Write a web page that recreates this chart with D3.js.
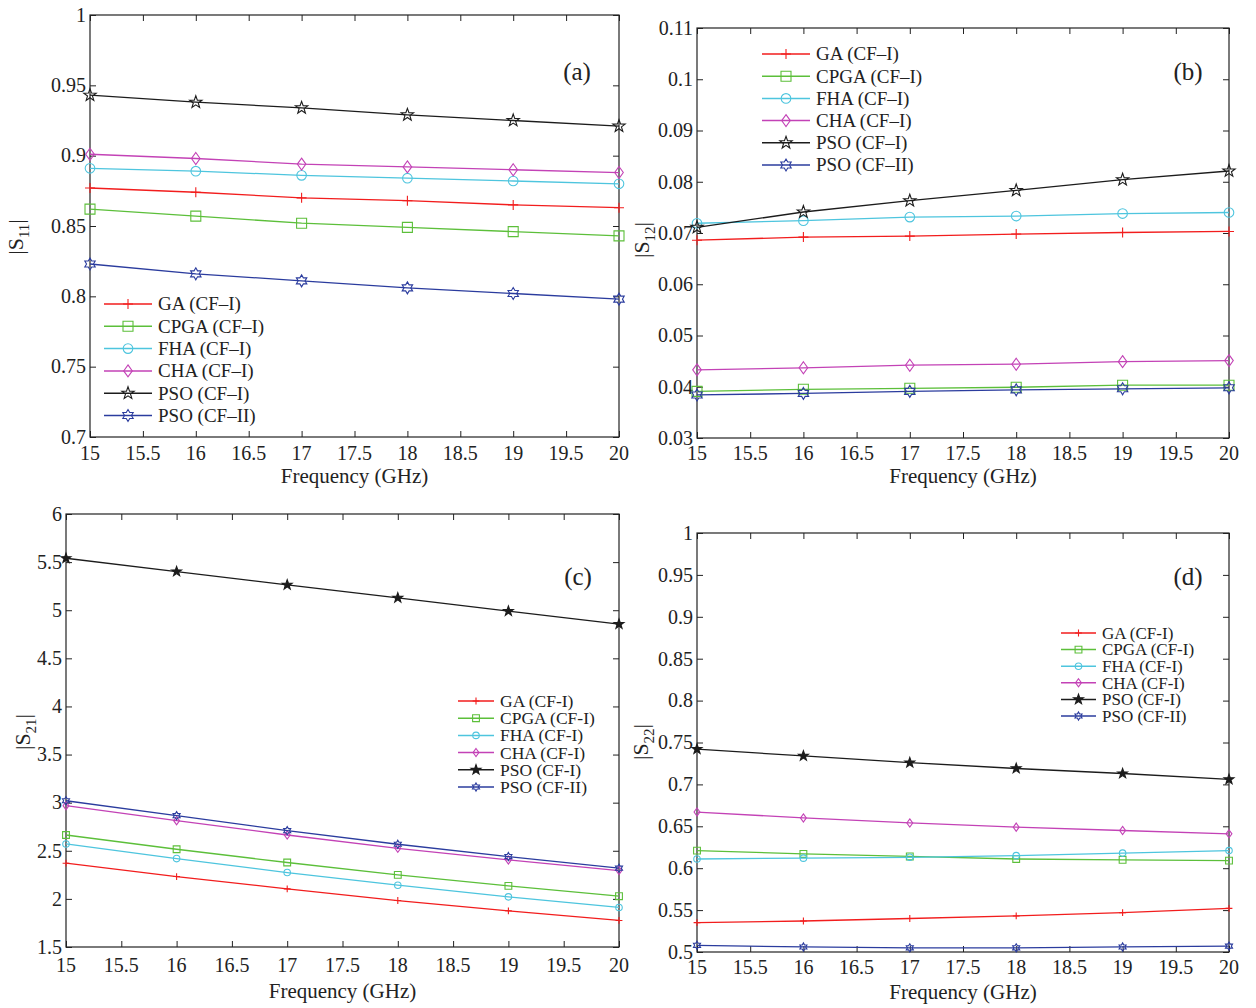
<!DOCTYPE html>
<html>
<head>
<meta charset="utf-8">
<script src="https://cdn.jsdelivr.net/npm/d3@7"></script>
<style>
  body { margin: 0; background: #fff; }
  svg { display: block; }
  text { font-family: "Liberation Serif", "Times New Roman", serif; fill: #222; }
</style>
</head>
<body>
<div id="chart"></div>
<script>
// frequency points and x ticks (shared by all four panels)
const freq = [15, 16, 17, 18, 19, 20];
const xTicks = [15, 15.5, 16, 16.5, 17, 17.5, 18, 18.5, 19, 19.5, 20];

const namesDash = ['GA (CF–I)', 'CPGA (CF–I)', 'FHA (CF–I)', 'CHA (CF–I)', 'PSO (CF–I)', 'PSO (CF–II)'];
const namesHyphen = ['GA (CF-I)', 'CPGA (CF-I)', 'FHA (CF-I)', 'CHA (CF-I)', 'PSO (CF-I)', 'PSO (CF-II)'];
const colors = ['#f21d1d', '#5cbf3a', '#4ec5de', '#c342b6', '#1c1c1c', '#2b3c9e'];
const shapes = ['plus', 'square', 'circle', 'diamond', 'star', 'hexagram'];

// series order: GA, CPGA, FHA, CHA, PSO (CF-I), PSO (CF-II)
const s11 = [
  [0.877, 0.874, 0.870, 0.868, 0.865, 0.863],
  [0.862, 0.857, 0.852, 0.849, 0.846, 0.843],
  [0.891, 0.889, 0.886, 0.884, 0.882, 0.880],
  [0.901, 0.898, 0.894, 0.892, 0.890, 0.888],
  [0.943, 0.938, 0.934, 0.929, 0.925, 0.921],
  [0.823, 0.816, 0.811, 0.806, 0.802, 0.798]
];
const s12 = [
  [0.0686, 0.0692, 0.0694, 0.0698, 0.0701, 0.0703],
  [0.0391, 0.0395, 0.0397, 0.0399, 0.0403, 0.0403],
  [0.0719, 0.0724, 0.0731, 0.0733, 0.0738, 0.0740],
  [0.0433, 0.0437, 0.0442, 0.0444, 0.0449, 0.0451],
  [0.0711, 0.0741, 0.0763, 0.0783, 0.0804, 0.0821],
  [0.0384, 0.0387, 0.0391, 0.0394, 0.0396, 0.0398]
];
const s21 = [
  [2.371, 2.232, 2.104, 1.983, 1.876, 1.776],
  [2.664, 2.516, 2.378, 2.250, 2.135, 2.028],
  [2.571, 2.419, 2.274, 2.142, 2.021, 1.911],
  [2.969, 2.813, 2.664, 2.526, 2.405, 2.294],
  [5.540, 5.402, 5.264, 5.129, 4.991, 4.856],
  [3.020, 2.865, 2.709, 2.568, 2.440, 2.319]
];
const s22 = [
  [0.535, 0.537, 0.540, 0.543, 0.547, 0.552],
  [0.621, 0.617, 0.614, 0.611, 0.610, 0.609],
  [0.611, 0.612, 0.613, 0.615, 0.618, 0.621],
  [0.667, 0.660, 0.654, 0.649, 0.645, 0.641],
  [0.742, 0.734, 0.726, 0.719, 0.713, 0.706],
  [0.508, 0.506, 0.505, 0.505, 0.506, 0.507]
];

const s11Ticks = [0.7, 0.75, 0.8, 0.85, 0.9, 0.95, 1];
const s12Ticks = [0.03, 0.04, 0.05, 0.06, 0.07, 0.08, 0.09, 0.1, 0.11];
const s21Ticks = [1.5, 2, 2.5, 3, 3.5, 4, 4.5, 5, 5.5, 6];
const s22Ticks = [0.5, 0.55, 0.6, 0.65, 0.7, 0.75, 0.8, 0.85, 0.9, 0.95, 1];

const panels = [
  { values: s11, ticks: s11Ticks, names: namesDash, sub: '11', letter: '(a)',
    x0: 90, x1: 619, y0: 15, y1: 437, big: true, hollowStar: true,
    leg: [104, 304, 22.3], legFont: 19, lineLen: 48,
    let: [577, 71], ylab: [16, 237], tickDy: 23, titleDy: 46 },
  { values: s12, ticks: s12Ticks, names: namesDash, sub: '12', letter: '(b)',
    x0: 697, x1: 1229, y0: 28, y1: 438, big: true, hollowStar: true,
    leg: [762, 54, 22.2], legFont: 19, lineLen: 48,
    let: [1188, 71], ylab: [642, 240], tickDy: 22, titleDy: 45 },
  { values: s21, ticks: s21Ticks, names: namesHyphen, sub: '21', letter: '(c)',
    x0: 66, x1: 619, y0: 514, y1: 947, big: false, hollowStar: false,
    leg: [458, 701, 17.2], legFont: 17.5, lineLen: 36,
    let: [578, 576], ylab: [23, 732], tickDy: 25, titleDy: 51 },
  { values: s22, ticks: s22Ticks, names: namesHyphen, sub: '22', letter: '(d)',
    x0: 697, x1: 1229, y0: 533, y1: 952, big: false, hollowStar: false,
    leg: [1061, 633, 16.6], legFont: 17, lineLen: 35,
    let: [1188, 576], ylab: [641, 742], tickDy: 22, titleDy: 47 }
];

function fmt(v) { return String(+v.toFixed(3)); }

function star(R, n, ratio) {
  let p = [];
  for (let i = 0; i < 2 * n; i++) {
    let a = -Math.PI / 2 + i * Math.PI / n;
    let r = i % 2 === 0 ? R : R * ratio;
    p.push([r * Math.cos(a), r * Math.sin(a)]);
  }
  return 'M' + p.map(d => d[0].toFixed(2) + ',' + d[1].toFixed(2)).join('L') + 'Z';
}

function markerPath(shape, big) {
  let k = big ? 1 : 0.68;
  if (shape === 'plus') { let r = 5 * k; return `M${-r},0H${r}M0,${-r}V${r}`; }
  if (shape === 'square') { let r = 5 * k; return `M${-r},${-r}H${r}V${r}H${-r}Z`; }
  if (shape === 'circle') { let r = 4.8 * k; return `M${r},0A${r},${r} 0 1,1 ${-r},0A${r},${r} 0 1,1 ${r},0Z`; }
  if (shape === 'diamond') { let w = 4.3 * k, h = 6 * k; return `M0,${-h}L${w},0L0,${h}L${-w},0Z`; }
  if (shape === 'star') return star(6.5 * (big ? 1 : 0.8), 5, 0.4);
  return star(6 * k, 6, 0.577);
}

let svg = d3.select('#chart').
append('svg').
attr('width', 1256).
attr('height', 1008);

panels.forEach(p => {
  let x = d3.scaleLinear().domain([15, 20]).range([p.x0, p.x1]);
  let y = d3.scaleLinear().domain(d3.extent(p.ticks)).range([p.y1, p.y0]);
  let g = svg.append('g');
  let tl = 6;

  // frame with inward ticks on all four sides
  g.append('rect').
  attr('x', p.x0).attr('y', p.y0).
  attr('width', p.x1 - p.x0).attr('height', p.y1 - p.y0).
  attr('fill', 'none').attr('stroke', '#222').attr('stroke-width', 1.2);

  let axB = d3.axisBottom(x).tickValues(xTicks).tickSizeInner(-tl).tickSizeOuter(0).tickFormat('');
  let axT = d3.axisTop(x).tickValues(xTicks).tickSizeInner(-tl).tickSizeOuter(0).tickFormat('');
  let axL = d3.axisLeft(y).tickValues(p.ticks).tickSizeInner(-tl).tickSizeOuter(0).tickFormat('');
  let axR = d3.axisRight(y).tickValues(p.ticks).tickSizeInner(-tl).tickSizeOuter(0).tickFormat('');
  [[axB, `translate(0,${p.y1})`], [axT, `translate(0,${p.y0})`],
   [axL, `translate(${p.x0},0)`], [axR, `translate(${p.x1},0)`]].forEach(a => {
    let ag = g.append('g').attr('transform', a[1]).call(a[0]);
    ag.select('.domain').remove();
    ag.selectAll('line').attr('stroke', '#222');
  });

  // tick labels
  g.selectAll('.xl').data(xTicks).enter().append('text').
  attr('x', d => x(d)).attr('y', p.y1 + p.tickDy).
  attr('text-anchor', 'middle').attr('font-size', 20).
  text(d => fmt(d));

  g.selectAll('.yl').data(p.ticks).enter().append('text').
  attr('x', p.x0 - 4).attr('y', d => y(d)).attr('dy', '0.34em').
  attr('text-anchor', 'end').attr('font-size', 20).
  text(d => fmt(d));

  g.append('text').
  attr('x', (p.x0 + p.x1) / 2).attr('y', p.y1 + p.titleDy).
  attr('text-anchor', 'middle').attr('font-size', 21).
  text('Frequency (GHz)');

  let yl = g.append('text').
  attr('transform', `translate(${p.ylab[0]},${p.ylab[1]}) rotate(-90)`).
  attr('text-anchor', 'middle').attr('font-size', 22).attr('dy', '0.3em');
  yl.append('tspan').text('|S');
  yl.append('tspan').attr('font-size', 15).attr('dy', 6).text(p.sub);
  yl.append('tspan').attr('dy', -6).text('|');

  g.append('text').
  attr('x', p.let[0]).attr('y', p.let[1]).attr('dy', '0.35em').
  attr('text-anchor', 'middle').attr('font-size', 25).
  text(p.letter);

  // series lines and markers
  let line = d3.line().x((d, i) => x(freq[i])).y(d => y(d));
  p.values.forEach((vals, s) => {
    let c = colors[s];
    let filled = shapes[s] === 'star' && !p.hollowStar;
    g.append('path').datum(vals).
    attr('d', line).attr('fill', 'none').
    attr('stroke', c).attr('stroke-width', 1.3);
    g.selectAll('.m' + s).data(vals).enter().append('path').
    attr('transform', (d, i) => `translate(${x(freq[i])},${y(d)})`).
    attr('d', markerPath(shapes[s], p.big)).
    attr('fill', filled ? c : 'none').
    attr('stroke', c).attr('stroke-width', 1.1);
  });

  // legend (no box)
  p.names.forEach((name, s) => {
    let ly = p.leg[1] + s * p.leg[2];
    let lx = p.leg[0];
    let c = colors[s];
    let filled = shapes[s] === 'star' && !p.hollowStar;
    g.append('line').
    attr('x1', lx).attr('x2', lx + p.lineLen).attr('y1', ly).attr('y2', ly).
    attr('stroke', c).attr('stroke-width', 1.5);
    g.append('path').
    attr('transform', `translate(${lx + p.lineLen / 2},${ly})`).
    attr('d', markerPath(shapes[s], p.big)).
    attr('fill', filled ? c : 'none').
    attr('stroke', c).attr('stroke-width', 1.1);
    g.append('text').
    attr('x', lx + p.lineLen + 6).attr('y', ly).attr('dy', '0.34em').
    attr('font-size', p.legFont).
    text(name);
  });
});
</script>
</body>
</html>
